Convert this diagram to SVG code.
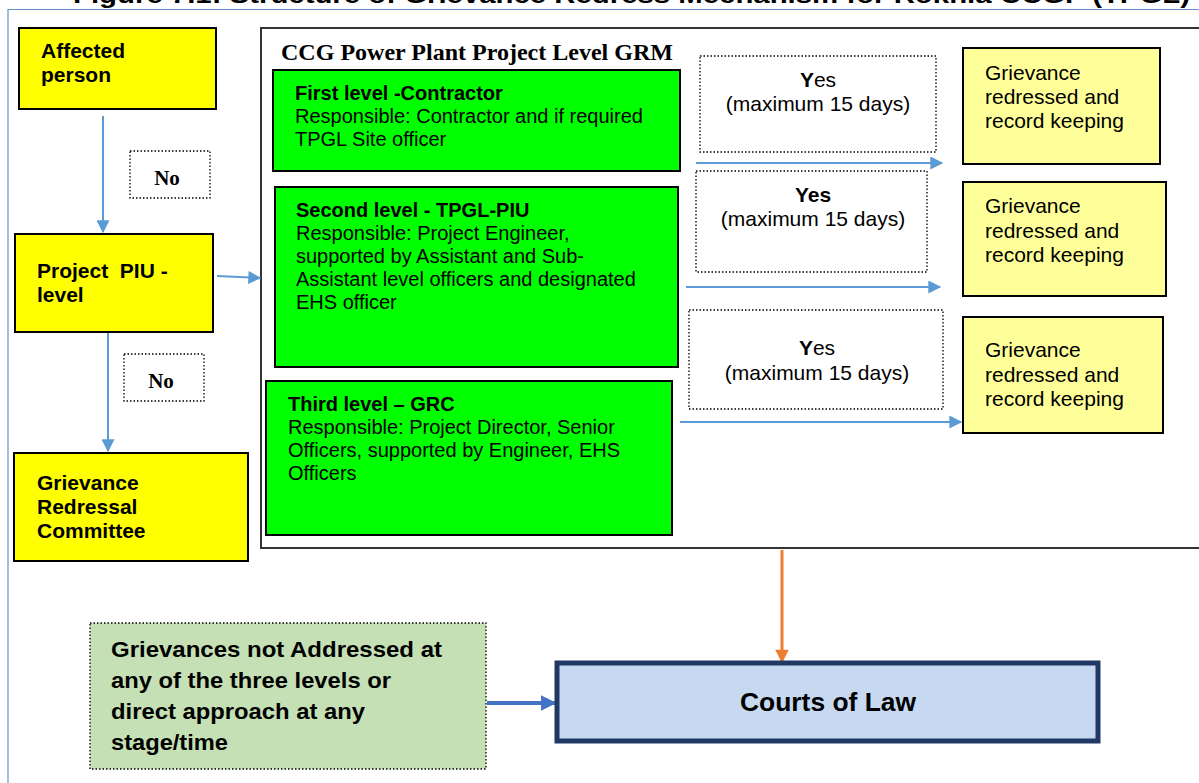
<svg xmlns="http://www.w3.org/2000/svg" width="1199" height="783" viewBox="0 0 1199 783">
<defs>
<style>
.t{font-family:"Liberation Sans",Arial,sans-serif;fill:#000}
.b{font-weight:bold}
.s20{font-size:20px}
.s21{font-size:21px}
.tm{font-family:"Liberation Serif","Times New Roman",serif;font-weight:bold;fill:#000}
.yel{fill:#ffff00;stroke:#000;stroke-width:2}
.grn{fill:#00ff00;stroke:#000;stroke-width:2}
.lyel{fill:#ffff99;stroke:#000;stroke-width:2}
.dot{fill:#fff;stroke:#000;stroke-width:1.3;stroke-dasharray:1.5 2}
.conn{stroke:#5b9bd5;stroke-width:2;fill:none}
</style>
<marker id="abl" viewBox="0 0 10 10" refX="9" refY="5" markerWidth="14" markerHeight="13" markerUnits="userSpaceOnUse" orient="auto"><path d="M0,0 L10,5 L0,10 z" fill="#5b9bd5"/></marker>
<marker id="ao" viewBox="0 0 10 10" refX="9" refY="5" markerWidth="5" markerHeight="4.5" orient="auto"><path d="M0,0 L10,5 L0,10 z" fill="#ed7d31"/></marker>
<marker id="ad" viewBox="0 0 10 10" refX="9" refY="5" markerWidth="4" markerHeight="4" orient="auto"><path d="M0,0 L10,5 L0,10 z" fill="#4472c4"/></marker>
</defs>
<rect x="0" y="0" width="1199" height="783" fill="#fff"/>
<text class="t b" x="73" y="3" font-size="24" textLength="1117" lengthAdjust="spacingAndGlyphs">Figure 7.1: Structure of Grievance Redress Mechanism for Rokhia CCGP (TPGL)</text>
<path d="M8,783 V9.5 H1199" fill="none" stroke="#6f8fc8" stroke-width="1.2"/>

<g id="outer">
<rect x="261" y="28" width="945" height="520" fill="#fff" stroke="#333" stroke-width="2"/>
<text class="tm" x="281" y="60" font-size="24" textLength="392" lengthAdjust="spacingAndGlyphs">CCG Power Plant Project Level GRM</text>
</g>

<g id="connectors">
<line class="conn" x1="103" y1="116" x2="103" y2="232" marker-end="url(#abl)"/>
<line class="conn" x1="217" y1="276" x2="260" y2="278" marker-end="url(#abl)"/>
<line class="conn" x1="108" y1="333" x2="108" y2="451" marker-end="url(#abl)"/>
<line class="conn" x1="696" y1="163" x2="942" y2="163" marker-end="url(#abl)"/>
<line class="conn" x1="686" y1="287" x2="940" y2="287" marker-end="url(#abl)"/>
<line class="conn" x1="680" y1="422" x2="961" y2="422" marker-end="url(#abl)"/>
<line x1="782" y1="550" x2="782" y2="662" stroke="#ed7d31" stroke-width="3" marker-end="url(#ao)"/>
<line x1="487" y1="703" x2="555" y2="703" stroke="#4472c4" stroke-width="4" marker-end="url(#ad)"/>
</g>

<g id="affected">
<rect class="yel" x="19" y="28" width="197" height="81"/>
<text class="t b s21" x="41" y="58">Affected</text>
<text class="t b s21" x="41" y="82">person</text>
</g>
<g id="no1">
<rect class="dot" x="130" y="151" width="80" height="47"/>
<text class="tm" x="167" y="185" font-size="21" text-anchor="middle">No</text>
</g>
<g id="piu">
<rect class="yel" x="15" y="234" width="198" height="98"/>
<text class="t b s21" x="37" y="278" xml:space="preserve">Project  PIU -</text>
<text class="t b s21" x="37" y="302">level</text>
</g>
<g id="no2">
<rect class="dot" x="124" y="354" width="80" height="47"/>
<text class="tm" x="161" y="388" font-size="21" text-anchor="middle">No</text>
</g>
<g id="grc">
<rect class="yel" x="14" y="453" width="234" height="108"/>
<text class="t b s21" x="37" y="490">Grievance</text>
<text class="t b s21" x="37" y="514">Redressal</text>
<text class="t b s21" x="37" y="538">Committee</text>
</g>

<g id="level1">
<rect class="grn" x="273" y="70" width="407" height="101"/>
<text class="t b s20" x="295" y="100">First level -Contractor</text>
<text class="t s20" x="295" y="123">Responsible: Contractor and if required</text>
<text class="t s20" x="295" y="146">TPGL Site officer</text>
</g>
<g id="level2">
<rect class="grn" x="275" y="187" width="403" height="180"/>
<text class="t b s20" x="296" y="217">Second level - TPGL-PIU</text>
<text class="t s20" x="296" y="240">Responsible: Project Engineer,</text>
<text class="t s20" x="296" y="263">supported by Assistant and Sub-</text>
<text class="t s20" x="296" y="286">Assistant level officers and designated</text>
<text class="t s20" x="296" y="309">EHS officer</text>
</g>
<g id="level3">
<rect class="grn" x="266" y="381" width="406" height="154"/>
<text class="t b s20" x="288" y="411">Third level – GRC</text>
<text class="t s20" x="288" y="434">Responsible: Project Director, Senior</text>
<text class="t s20" x="288" y="457">Officers, supported by Engineer, EHS</text>
<text class="t s20" x="288" y="480">Officers</text>
</g>

<g id="yes1">
<rect class="dot" x="700" y="56" width="236" height="96"/>
<text class="t s21" x="818" y="87" text-anchor="middle"><tspan class="b">Y</tspan>es</text>
<text class="t s21" x="818" y="111" text-anchor="middle">(maximum 15 days)</text>
</g>
<g id="yes2">
<rect class="dot" x="696" y="171" width="231" height="101"/>
<text class="t b s21" x="813" y="202" text-anchor="middle">Yes</text>
<text class="t s21" x="813" y="226" text-anchor="middle">(maximum 15 days)</text>
</g>
<g id="yes3">
<rect class="dot" x="689" y="310" width="254" height="99"/>
<text class="t s21" x="817" y="355" text-anchor="middle"><tspan class="b">Y</tspan>es</text>
<text class="t s21" x="817" y="380" text-anchor="middle">(maximum 15 days)</text>
</g>

<g id="redressed1">
<rect class="lyel" x="963" y="48" width="197" height="116"/>
<text class="t s21" x="985" y="80">Grievance</text>
<text class="t s21" x="985" y="104">redressed and</text>
<text class="t s21" x="985" y="128">record keeping</text>
</g>
<g id="redressed2">
<rect class="lyel" x="963" y="182" width="203" height="114"/>
<text class="t s21" x="985" y="213">Grievance</text>
<text class="t s21" x="985" y="238">redressed and</text>
<text class="t s21" x="985" y="262">record keeping</text>
</g>
<g id="redressed3">
<rect class="lyel" x="963" y="317" width="200" height="116"/>
<text class="t s21" x="985" y="357">Grievance</text>
<text class="t s21" x="985" y="382">redressed and</text>
<text class="t s21" x="985" y="406">record keeping</text>
</g>

<g id="notaddressed">
<rect x="90" y="623" width="396" height="146" fill="#c5e0b4" stroke="#000" stroke-width="1.3" stroke-dasharray="1.5 2"/>
<text class="t b" x="111" y="657" font-size="22" textLength="331" lengthAdjust="spacingAndGlyphs">Grievances not Addressed at</text>
<text class="t b" x="111" y="688" font-size="22" textLength="280" lengthAdjust="spacingAndGlyphs">any of the three levels or</text>
<text class="t b" x="111" y="719" font-size="22" textLength="254" lengthAdjust="spacingAndGlyphs">direct approach at any</text>
<text class="t b" x="111" y="750" font-size="22" textLength="117" lengthAdjust="spacingAndGlyphs">stage/time</text>
</g>
<g id="courts">
<rect x="557" y="663" width="541" height="78" fill="#c6d9f0" stroke="#1f3864" stroke-width="5"/>
<text class="t b" x="828" y="711" font-size="25" text-anchor="middle" textLength="176" lengthAdjust="spacingAndGlyphs">Courts of Law</text>
</g>
</svg>
